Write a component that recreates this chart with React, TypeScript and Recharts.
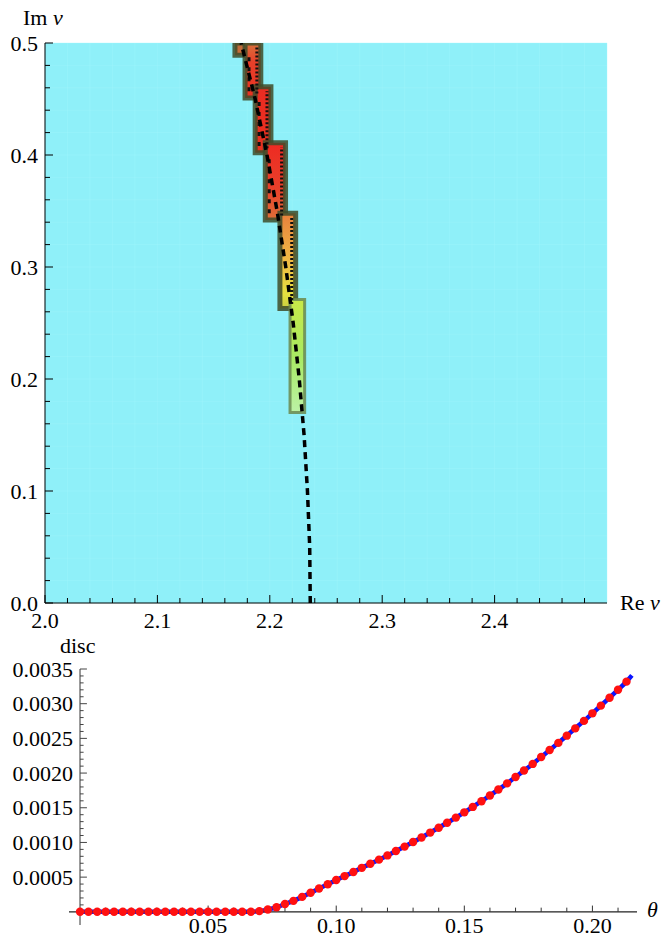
import {
  ComposedChart,
  Line,
  XAxis,
  YAxis,
  CartesianGrid,
  ReferenceArea,
  ReferenceLine,
} from "recharts";

const serif = "'Liberation Serif', 'Times New Roman', Times, serif";
const txt = { fontFamily: serif, fontSize: 22 };

// ---- top panel: complex v plane ----
const reMajor = [2.0, 2.1, 2.2, 2.3, 2.4];
const reMinor = [
  2.02, 2.04, 2.06, 2.08, 2.12, 2.14, 2.16, 2.18, 2.22, 2.24, 2.26, 2.28,
  2.32, 2.34, 2.36, 2.38, 2.42, 2.44, 2.46, 2.48,
];
const imMajor = [0.0, 0.1, 0.2, 0.3, 0.4, 0.5];
const imMinor = [
  0.02, 0.04, 0.06, 0.08, 0.12, 0.14, 0.16, 0.18, 0.22, 0.24, 0.26, 0.28,
  0.32, 0.34, 0.36, 0.38, 0.42, 0.44, 0.46, 0.48,
];

// dashed curve (Re v, Im v)
const dashIm = [0, 0.05, 0.1, 0.15, 0.2, 0.25, 0.3, 0.35, 0.4, 0.45, 0.5];
const dashRe = [
  2.236, 2.2355, 2.2335, 2.2305, 2.2262, 2.2208, 2.2142, 2.2065, 2.1975,
  2.187, 2.1745,
];

// contour blocks along the staircase
const blockReLo = [2.169, 2.178, 2.187, 2.196, 2.209, 2.218];
const blockReHi = [2.18, 2.192, 2.201, 2.214, 2.223, 2.231];
const blockImLo = [0.489, 0.451, 0.402, 0.342, 0.263, 0.17];
const blockImHi = [0.5, 0.5, 0.461, 0.411, 0.348, 0.271];

// ---- bottom panel: disc vs theta ----
const theta = [
  0, 0.0033, 0.0067, 0.01, 0.0133, 0.0167, 0.02, 0.0233, 0.0267, 0.03, 0.0333,
  0.0367, 0.04, 0.0433, 0.0467, 0.05, 0.0533, 0.0567, 0.06, 0.0633, 0.0667,
  0.07, 0.0733, 0.0767, 0.08, 0.0833, 0.0867, 0.09, 0.0933, 0.0967, 0.1,
  0.1033, 0.1067, 0.11, 0.1133, 0.1167, 0.12, 0.1233, 0.1267, 0.13, 0.1333,
  0.1367, 0.14, 0.1433, 0.1467, 0.15, 0.1533, 0.1567, 0.16, 0.1633, 0.1667,
  0.17, 0.1733, 0.1767, 0.18, 0.1833, 0.1867, 0.19, 0.1933, 0.1967, 0.2,
  0.2033, 0.2067, 0.21, 0.2133,
];
const disc = [
  0, 0, 0, 0, 0, 0, 0, 0, 0, 0, 0, 0, 0, 0, 0, 0, 0, 0, 0, 0, 0, 0.00001,
  0.000034, 0.000065, 0.000112, 0.000158, 0.000215, 0.000274, 0.000336,
  0.000398, 0.000458, 0.000515, 0.000574, 0.000634, 0.000692, 0.000752,
  0.000813, 0.000876, 0.00094, 0.001006, 0.001072, 0.001142, 0.001212,
  0.001284, 0.001358, 0.001434, 0.001512, 0.001594, 0.001677, 0.001763,
  0.001851, 0.001943, 0.002036, 0.002132, 0.002231, 0.002332, 0.002435,
  0.002539, 0.002644, 0.002752, 0.002861, 0.002972, 0.003086, 0.003201,
  0.003318,
];
const lineEndTheta = 0.2154;
const lineEndDisc = 0.003408;

const thetaMajor = [0.05, 0.1, 0.15, 0.2];
const thetaMinor = [
  0.01, 0.02, 0.03, 0.04, 0.06, 0.07, 0.08, 0.09, 0.11, 0.12, 0.13, 0.14,
  0.16, 0.17, 0.18, 0.19, 0.21,
];
const discMajor = [0.0005, 0.001, 0.0015, 0.002, 0.0025, 0.003, 0.0035];
const discMinor = [
  0.0001, 0.0002, 0.0003, 0.0004, 0.0006, 0.0007, 0.0008, 0.0009, 0.0011,
  0.0012, 0.0013, 0.0014, 0.0016, 0.0017, 0.0018, 0.0019, 0.0021, 0.0022,
  0.0023, 0.0024, 0.0026, 0.0027, 0.0028, 0.0029, 0.0031, 0.0032, 0.0033,
  0.0034,
];

const dashData = dashIm.map((im, i) => ({ re: dashRe[i], im }));
const dotData = theta.map((t, i) => ({ t, d: disc[i] }));
const lineData = [...dotData, { t: lineEndTheta, d: lineEndDisc }];

const blockStops = [
  [["0", "#b8683a"], ["1", "#d0703a"]],
  [["0", "#d8733c"], ["0.35", "#e8402a"], ["1", "#e83222"]],
  [["0", "#ea2c22"], ["1", "#e8301f"]],
  [["0", "#ee2a22"], ["0.6", "#e8402a"], ["1", "#e07038"]],
  [["0", "#e8803c"], ["0.45", "#f0b444"], ["0.85", "#e6e040"], ["1", "#c8d040"]],
  [["0", "#c8e848"], ["0.5", "#a8ea62"], ["1", "#bcf2a6"]],
];

const near = (v: number, list: number[]) =>
  list.some((m) => Math.abs(m - v) < 1e-6);

const TopXTick = (p: any) => {
  const { x, y, payload } = p;
  const major = near(payload.value, reMajor);
  return (
    <g>
      <line x1={x} x2={x} y1={y} y2={y - (major ? 8 : 5)} stroke="#000" />
      {major && (
        <text x={x} y={y + 25} textAnchor="middle" style={txt} fill="#000">
          {payload.value.toFixed(1)}
        </text>
      )}
    </g>
  );
};

const TopYTick = (p: any) => {
  const { x, y, payload } = p;
  const major = near(payload.value, imMajor);
  return (
    <g>
      <line x1={x} x2={x + (major ? 8 : 5)} y1={y} y2={y} stroke="#000" />
      {major && (
        <text x={x - 7} y={y} dy="0.35em" textAnchor="end" style={txt} fill="#000">
          {payload.value.toFixed(1)}
        </text>
      )}
    </g>
  );
};

const BotXTick = (p: any) => {
  const { x, y, payload } = p;
  return (
    <text x={x} y={y + 8} textAnchor="middle" style={txt} fill="#000">
      {payload.value.toFixed(2)}
    </text>
  );
};

const BotYTick = (p: any) => {
  const { x, y, payload } = p;
  return (
    <text x={x + 4} y={y} dy="0.35em" textAnchor="end" style={txt} fill="#000">
      {payload.value.toFixed(4)}
    </text>
  );
};

export default function App() {
  return (
    <div style={{ position: "absolute", left: 0, top: 0, width: 664, height: 939, background: "#fff", overflow: "hidden" }}>
      <div style={{ position: "absolute", left: 0, top: 0 }}>
        <ComposedChart width={664} height={640} margin={{ top: 43, right: 57, bottom: 0, left: 0 }}>
          <defs>
            {blockStops.map((stops, i) => (
              <linearGradient key={i} id={`blk${i}`} x1="0" y1="0" x2="0" y2="1">
                {stops.map(([o, c]) => (
                  <stop key={o} offset={o} stopColor={c} />
                ))}
              </linearGradient>
            ))}
          </defs>
          <CartesianGrid fill="#8ff0f9" stroke="#a4f5fb" strokeOpacity={0.35} />
          <XAxis
            dataKey="re"
            type="number"
            domain={[2, 2.5]}
            ticks={[...reMajor, ...reMinor]}
            interval={0}
            height={37}
            tickSize={0}
            tickMargin={0}
            tickLine={false}
            axisLine={{ stroke: "#000" }}
            tick={TopXTick}
            allowDataOverflow
          />
          <YAxis
            type="number"
            domain={[0, 0.5]}
            ticks={[...imMajor, ...imMinor]}
            interval={0}
            width={45}
            tickSize={0}
            tickMargin={0}
            tickLine={false}
            axisLine={{ stroke: "#000" }}
            tick={TopYTick}
            allowDataOverflow
          />
          {blockReLo.map((lo, i) => (
            <ReferenceArea
              key={i}
              x1={lo}
              x2={blockReHi[i]}
              y1={blockImLo[i]}
              y2={blockImHi[i]}
              fill={`url(#blk${i})`}
              fillOpacity={1}
              stroke={i === 5 ? "#6a8a50" : "#3e4c2a"}
              strokeWidth={i === 5 ? 3 : 5}
              strokeOpacity={0.85}
              ifOverflow="hidden"
            />
          ))}
          {/* jagged dark edges of the red/orange blocks */}
          {blockReLo.slice(1, 5).map((lo, i) => (
            <ReferenceLine
              key={`jr${i}`}
              segment={[
                { x: blockReHi[i + 1] - 0.0035, y: blockImLo[i + 1] + 0.004 },
                { x: blockReHi[i + 1] - 0.0035, y: blockImHi[i + 1] - 0.004 },
              ]}
              stroke="#111"
              strokeWidth={3}
              strokeDasharray="2 2"
              ifOverflow="hidden"
            />
          ))}
          {blockReLo.slice(1, 4).map((lo, i) => (
            <ReferenceLine
              key={`jl${i}`}
              segment={[
                { x: lo + 0.0035, y: blockImLo[i + 1] + 0.006 },
                { x: lo + 0.0035, y: blockImHi[i + 1] - 0.01 },
              ]}
              stroke="#111"
              strokeWidth={3}
              strokeDasharray="4 6"
              ifOverflow="hidden"
            />
          ))}
          <Line
            data={dashData}
            dataKey="im"
            type="linear"
            stroke="#000"
            strokeWidth={3.5}
            strokeDasharray="7 5"
            dot={false}
            isAnimationActive={false}
          />
        </ComposedChart>
      </div>
      <div style={{ position: "absolute", left: 0, top: 630 }}>
        <ComposedChart width={664} height={309} margin={{ top: 39, right: 27, bottom: 0, left: 0 }}>
          <XAxis
            dataKey="t"
            type="number"
            domain={[-0.0043, 0.2174]}
            ticks={thetaMajor}
            interval={0}
            height={14}
            tickSize={0}
            tickMargin={0}
            tickLine={false}
            axisLine={false}
            tick={BotXTick}
            allowDataOverflow
          />
          <YAxis
            type="number"
            domain={[-0.00019, 0.0035]}
            ticks={discMajor}
            interval={0}
            width={69}
            tickSize={0}
            tickMargin={0}
            tickLine={false}
            axisLine={false}
            tick={BotYTick}
            allowDataOverflow
          />
          <Line
            data={lineData}
            dataKey="d"
            type="monotone"
            stroke="#0a14ff"
            strokeWidth={4.5}
            dot={false}
            isAnimationActive={false}
          />
          <Line
            data={dotData}
            dataKey="d"
            stroke="none"
            strokeWidth={0}
            dot={{ r: 4.2, fill: "#ff1010", stroke: "none" }}
            isAnimationActive={false}
          />
          <ReferenceLine y={0} stroke="#222" strokeWidth={1.2} />
          <ReferenceLine x={0} stroke="#555" strokeWidth={1.2} />
          {thetaMajor.map((t) => (
            <ReferenceLine key={`tM${t}`} segment={[{ x: t, y: 0 }, { x: t, y: 0.00009 }]} stroke="#333" />
          ))}
          {thetaMinor.map((t) => (
            <ReferenceLine key={`tm${t}`} segment={[{ x: t, y: 0 }, { x: t, y: 0.00006 }]} stroke="#333" />
          ))}
          {discMajor.map((d) => (
            <ReferenceLine key={`dM${d}`} segment={[{ x: 0, y: d }, { x: 0.0027, y: d }]} stroke="#444" />
          ))}
          {discMinor.map((d) => (
            <ReferenceLine key={`dm${d}`} segment={[{ x: 0, y: d }, { x: 0.0014, y: d }]} stroke="#444" />
          ))}
        </ComposedChart>
      </div>
      <svg width={664} height={939} style={{ position: "absolute", left: 0, top: 0, pointerEvents: "none" }}>
        <text x={23} y={25} style={txt} fill="#000">
          Im <tspan fontStyle="italic">v</tspan>
        </text>
        <text x={620} y={610} style={txt} fill="#000">
          Re <tspan fontStyle="italic">v</tspan>
        </text>
        <text x={60} y={653} style={txt} fill="#000">
          disc
        </text>
        <text x={647} y={917} style={txt} fontStyle="italic" fill="#000">
          θ
        </text>
      </svg>
    </div>
  );
}
